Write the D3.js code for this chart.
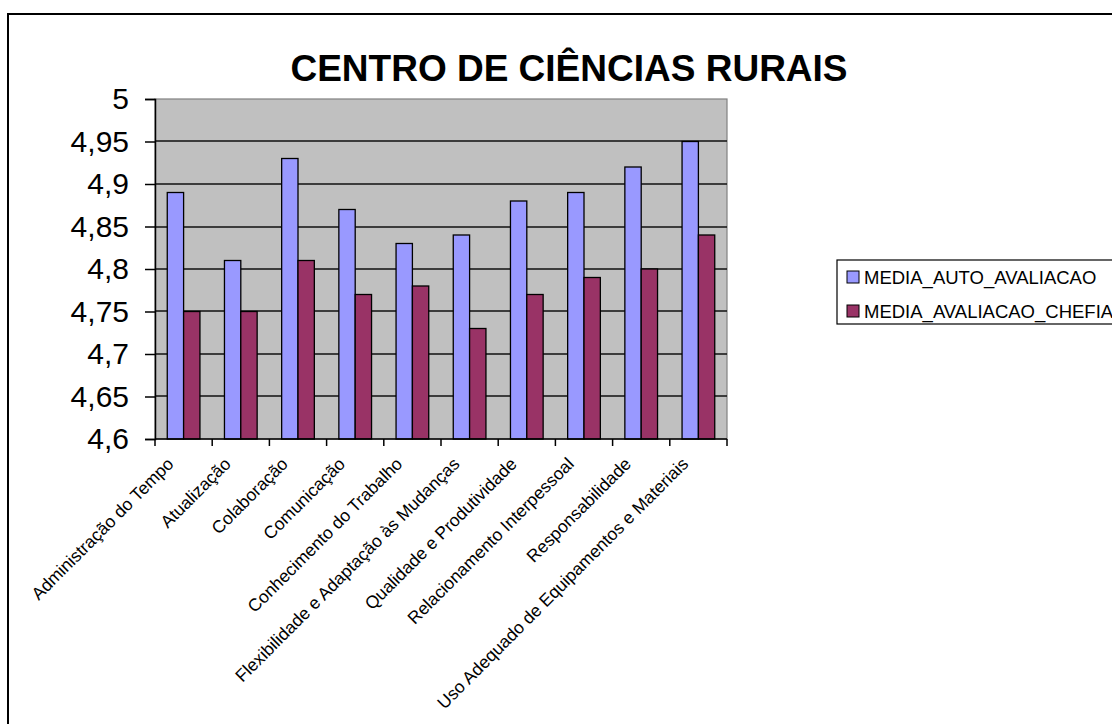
<!DOCTYPE html>
<html><head><meta charset="utf-8">
<script src="https://cdn.jsdelivr.net/npm/d3@7"></script>
<style>html,body{margin:0;padding:0;background:#fff;overflow:hidden}svg{display:block;font-family:"Liberation Sans",Arial,sans-serif}</style>
</head><body>
<script>
const categories = ["Administração do Tempo","Atualização","Colaboração","Comunicação","Conhecimento do Trabalho","Flexibilidade e Adaptação às Mudanças","Qualidade e Produtividade","Relacionamento Interpessoal","Responsabilidade","Uso Adequado de Equipamentos e Materiais"];
const seriesNames = ["MEDIA_AUTO_AVALIACAO","MEDIA_AVALIACAO_CHEFIA"];
const autoAvaliacao = [4.89,4.81,4.93,4.87,4.83,4.84,4.88,4.89,4.92,4.95];
const avaliacaoChefia = [4.75,4.75,4.81,4.77,4.78,4.73,4.77,4.79,4.80,4.84];
const yTicks = [4.6,4.65,4.7,4.75,4.8,4.85,4.9,4.95,5];
const colors = ["#9999FF","#993366"];
const title = "CENTRO DE CIÊNCIAS RURAIS";

const W=1112,H=724;
const svg=d3.select("body").append("svg").attr("width",W).attr("height",H);
svg.append("rect").attr("x",8).attr("y",14).attr("width",1300).attr("height",900).attr("fill","#fff").attr("stroke","#000").attr("stroke-width",2);

const L=155,R=727,T=99,B=439;
const x0=d3.scaleBand().domain(categories).range([L,R]).padding(0);
const bw=x0.bandwidth()/3.5;
const x1=d3.scaleBand().domain(seriesNames).range([0.75*bw,2.75*bw]).padding(0);
const y=d3.scaleLinear().domain([4.6,5]).range([B,T]);
const loc=d3.formatLocale({decimal:",",thousands:".",grouping:[3],currency:["",""]});
const fmt=loc.format(".3~g");

// plot area
svg.append("rect").attr("x",L).attr("y",T).attr("width",R-L).attr("height",B-T).attr("fill","#C0C0C0").attr("stroke","#808080").attr("stroke-width",1.2);
// gridlines
svg.append("g").selectAll("line").data(yTicks.filter(d=>d>4.6&&d<5)).join("line")
  .attr("x1",L).attr("x2",R).attr("y1",d=>Math.round(y(d))).attr("y2",d=>Math.round(y(d)))
  .attr("stroke","#111").attr("stroke-width",1.3);

// bars
const data=[autoAvaliacao,avaliacaoChefia];
const g=svg.append("g");
categories.forEach((c,i)=>{
  seriesNames.forEach((s,j)=>{
    g.append("rect").attr("x",x0(c)+x1(s)).attr("y",y(data[j][i])).attr("width",x1.bandwidth()).attr("height",B-y(data[j][i]))
      .attr("fill",colors[j]).attr("stroke","#000").attr("stroke-width",1.3);
  });
});

// y axis
const ya=svg.append("g").attr("transform",`translate(${L},0)`).call(d3.axisLeft(y).tickValues(yTicks).tickFormat(fmt).tickSize(10).tickPadding(16));
ya.select(".domain").attr("stroke","#000").attr("stroke-width",1.5);
ya.selectAll(".tick line").attr("stroke","#000").attr("stroke-width",1.5);
ya.selectAll(".tick text").attr("font-size",30).attr("font-family","'Liberation Sans',Arial,sans-serif").attr("fill","#000");

// x axis
const xa=svg.append("g").attr("transform",`translate(0,${B})`);
xa.append("line").attr("x1",L).attr("x2",R).attr("stroke","#000").attr("stroke-width",1.5);
const bounds=categories.map(c=>x0(c)).concat([R]);
xa.selectAll("line.t").data(bounds).join("line").attr("class","t").attr("x1",d=>d).attr("x2",d=>d).attr("y1",0).attr("y2",7).attr("stroke","#000").attr("stroke-width",1.5);
xa.selectAll("text").data(categories).join("text")
  .attr("transform",c=>`translate(${x0(c)+x0.bandwidth()/2-9},${26}) rotate(-45)`)
  .attr("text-anchor","end").attr("font-size",17.5).attr("fill","#000").text(d=>d);

// title
svg.append("text").attr("x",569).attr("y",81).attr("text-anchor","middle").attr("font-size",37).attr("font-weight","bold").text(title);

// legend
const lg=svg.append("g");
lg.append("rect").attr("x",837).attr("y",260).attr("width",400).attr("height",64).attr("fill","#fff").attr("stroke","#000").attr("stroke-width",1.2);
seriesNames.forEach((s,j)=>{
  const cy=277+j*34;
  lg.append("rect").attr("x",847).attr("y",cy-6).attr("width",12).attr("height",12).attr("fill",colors[j]).attr("stroke","#000");
  lg.append("text").attr("x",864).attr("y",cy).attr("dy","0.36em").attr("font-size",18.5).text(s);
});
</script>
</body></html>
